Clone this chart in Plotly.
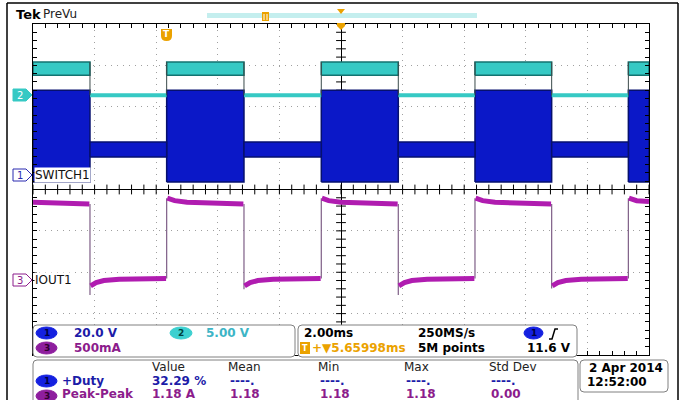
import plotly.graph_objects as go
import numpy as np

W, H = 681, 400

# ---------------- data ----------------
t_range_ms = [-10.0, 10.0]              # 2.00 ms/div, 10 divisions
fall_edges_ms = [-8.15, -3.15, 1.86, 6.84]
rise_edges_ms = [-5.66, -0.64, 4.35, 9.33]

# Channel settings: volts (or amps) per division and ground position (div)
ch1_scale, ch1_pos = 20.0, 0.35     # SWITCH1, 20.0 V/div
ch2_scale, ch2_pos = 5.0, 2.28      # 5.00 V/div
ch3_scale, ch3_pos = 0.5, -2.19     # IOUT1, 500 mA/div

# CH1 switching node envelope (V)
ch1_high_top_V = 41.0
ch1_high_bot_V = -3.4
ch1_low_top_V = 16.0
ch1_low_bot_V = 8.7

# CH2 (V)
ch2_high_top_V = 4.0
ch2_high_bot_V = 2.4
ch2_low_V = 0.0

# CH3 output current (A)
ch3_t = [-10.0, -8.17, None, -8.13, -7.95, -7.7, -7.2, -5.68, None,
         -5.64, -5.4, -5.0, -3.17, None, -3.13, -2.95, -2.7, -2.2, -0.66, None,
         -0.62, -0.4, 0.0, 1.84, None, 1.88, 2.06, 2.3, 2.8, 4.33, None,
         4.37, 4.6, 5.0, 6.82, None, 6.86, 7.04, 7.3, 7.8, 9.31, None,
         9.35, 9.6, 10.0]
ch3_A = [0.94, 0.92, None, -0.07, -0.03, -0.005, 0.01, 0.02, None,
         0.99, 0.96, 0.94, 0.92, None, -0.07, -0.03, -0.005, 0.01, 0.02, None,
         0.99, 0.96, 0.94, 0.92, None, -0.07, -0.03, -0.005, 0.01, 0.02, None,
         0.99, 0.96, 0.94, 0.92, None, -0.07, -0.03, -0.005, 0.01, 0.02, None,
         0.99, 0.96, 0.95]
ch3_fall_spike_A = [-0.18, -0.11, -0.18, -0.10]
ch3_fall_from_A = [0.92, 0.92, 0.92, 0.92]
ch3_rise_from_A = [0.02, 0.02, 0.02, 0.02]
ch3_rise_to_A = [0.99, 0.99, 0.99, 0.99]

# Readouts
meas_headers = ["Value", "Mean", "Min", "Max", "Std Dev"]
meas_duty = ["32.29 %", "----.", "----.", "----.", "----."]
meas_pp = ["1.18 A", "1.18", "1.18", "1.18", "0.00"]

# ---------------- colours ----------------
C1 = "#0B18C8"; C1E = "#06106E"; C1T = "#1C1CA8"
C2 = "#36C9C4"; C2E = "#137370"; C2T = "#3DB5C6"
C3 = "#B01CB0"; C3T = "#8C1C8C"
ORG = "#EBA200"
FONT = "DejaVu Sans"

def X(p):
    return p / W

def Y(p):
    return 1 - p / H

# ---------------- traces ----------------
fig = go.Figure()

starts = [t_range_ms[0]] + rise_edges_ms
ends = fall_edges_ms + [t_range_ms[1]]
high_iv = list(zip(starts, ends))
low_iv = list(zip(fall_edges_ms, rise_edges_ms))

def blocks(intervals, lo, hi):
    xs, ys = [], []
    for a, b in intervals:
        xs += [a, a, b, b, a, None]
        ys += [lo, hi, hi, lo, lo, None]
    return xs, ys

# CH1
bx, by = blocks(high_iv, ch1_high_bot_V, ch1_high_top_V)
fig.add_trace(go.Scatter(x=bx, y=by, yaxis="y2", mode="lines", fill="toself",
                         fillcolor=C1, line=dict(color=C1E, width=1.5), hoverinfo="skip"))
lx, ly = blocks(low_iv, ch1_low_bot_V, ch1_low_top_V)
fig.add_trace(go.Scatter(x=lx, y=ly, yaxis="y2", mode="lines", fill="toself",
                         fillcolor=C1, line=dict(color=C1E, width=1.5), hoverinfo="skip"))

# CH2
hx, hy = blocks(high_iv, ch2_high_bot_V, ch2_high_top_V)
fig.add_trace(go.Scatter(x=hx, y=hy, yaxis="y3", mode="lines", fill="toself",
                         fillcolor=C2, line=dict(color=C2E, width=1.5), hoverinfo="skip"))
c2x, c2y = [], []
for a, b in low_iv:
    c2x += [a, b, None]
    c2y += [ch2_low_V, ch2_low_V, None]
fig.add_trace(go.Scatter(x=c2x, y=c2y, yaxis="y3", mode="lines",
                         line=dict(color=C2, width=4), hoverinfo="skip"))
ex, ey = [], []
for t in fall_edges_ms + rise_edges_ms:
    ex += [t, t, None]
    ey += [ch2_low_V, ch2_high_top_V, None]
fig.add_trace(go.Scatter(x=ex, y=ey, yaxis="y3", mode="lines",
                         line=dict(color="#3A4A4A", width=1), hoverinfo="skip"))

# CH3 edges (thin) then levels (thick)
e3x, e3y = [], []
for t, a, b in zip(fall_edges_ms, ch3_fall_from_A, ch3_fall_spike_A):
    e3x += [t, t, None]; e3y += [a, b, None]
for t, a, b in zip(rise_edges_ms, ch3_rise_from_A, ch3_rise_to_A):
    e3x += [t, t, None]; e3y += [a, b, None]
fig.add_trace(go.Scatter(x=e3x, y=e3y, yaxis="y4", mode="lines",
                         line=dict(color="#7E5E86", width=1.2), hoverinfo="skip"))
fig.add_trace(go.Scatter(x=ch3_t, y=ch3_A, yaxis="y4", mode="lines",
                         line=dict(color=C3, width=5), hoverinfo="skip"))

# Graticule centre ticks
tick_x = np.arange(-10, 10.01, 0.4)
fig.add_trace(go.Scatter(x=tick_x, y=np.zeros_like(tick_x), mode="markers",
                         marker=dict(symbol="line-ns", size=7, line=dict(color="black", width=1)),
                         hoverinfo="skip"))
tick_y = np.arange(-4, 4.01, 0.2)
fig.add_trace(go.Scatter(x=np.zeros_like(tick_y), y=tick_y, mode="markers",
                         marker=dict(symbol="line-ew", size=7, line=dict(color="black", width=1)),
                         hoverinfo="skip"))

# ---------------- axes ----------------
xd = [X(33), X(649)]
yd = [Y(355), Y(24)]
fig.update_layout(
    width=W, height=H, margin=dict(l=0, r=0, t=0, b=0),
    paper_bgcolor="white", plot_bgcolor="white", showlegend=False,
    xaxis=dict(domain=xd, range=t_range_ms, dtick=2, showgrid=True, gridcolor="#A0A0A0",
               griddash="1px,5px", gridwidth=1, zeroline=True, zerolinecolor="black",
               zerolinewidth=1, showline=True, linecolor="black", linewidth=1, mirror="ticks",
               ticks="inside", ticklen=4, tickcolor="black", showticklabels=False,
               minor=dict(dtick=0.4, ticks="inside", ticklen=4, tickcolor="black", showgrid=False),
               fixedrange=True),
    yaxis=dict(domain=yd, range=[-4, 4], dtick=1, showgrid=True, gridcolor="#A0A0A0",
               griddash="1px,5px", gridwidth=1, zeroline=True, zerolinecolor="black",
               zerolinewidth=1, showline=True, linecolor="black", linewidth=1, mirror="ticks",
               ticks="inside", ticklen=4, tickcolor="black", showticklabels=False,
               minor=dict(dtick=0.2, ticks="inside", ticklen=4, tickcolor="black", showgrid=False),
               fixedrange=True),
    yaxis2=dict(overlaying="y", visible=False,
                range=[(-4 - ch1_pos) * ch1_scale, (4 - ch1_pos) * ch1_scale]),
    yaxis3=dict(overlaying="y", visible=False,
                range=[(-4 - ch2_pos) * ch2_scale, (4 - ch2_pos) * ch2_scale]),
    yaxis4=dict(overlaying="y", visible=False,
                range=[(-4 - ch3_pos) * ch3_scale, (4 - ch3_pos) * ch3_scale]),
)

# ---------------- decorations ----------------
shapes = []
ann = []

def rrect(x0, y0, x1, y1, r=4, color="#808080", width=1, fill="white"):
    p = (f"M {X(x0+r)} {Y(y0)} L {X(x1-r)} {Y(y0)} Q {X(x1)} {Y(y0)} {X(x1)} {Y(y0+r)} "
         f"L {X(x1)} {Y(y1-r)} Q {X(x1)} {Y(y1)} {X(x1-r)} {Y(y1)} "
         f"L {X(x0+r)} {Y(y1)} Q {X(x0)} {Y(y1)} {X(x0)} {Y(y1-r)} "
         f"L {X(x0)} {Y(y0+r)} Q {X(x0)} {Y(y0)} {X(x0+r)} {Y(y0)} Z")
    shapes.append(dict(type="path", path=p, xref="paper", yref="paper",
                       line=dict(color=color, width=width), fillcolor=fill, layer="above"))

def text(x, y, s, color="black", size=12, anchor="left", bold=False, bg=None, family=FONT):
    d = dict(x=X(x), y=Y(y), xref="paper", yref="paper", text=(f"<b>{s}</b>" if bold else s),
             showarrow=False, xanchor=anchor, yanchor="middle",
             font=dict(color=color, size=size, family=family))
    if bg:
        d["bgcolor"] = bg
        d["borderpad"] = 0
    ann.append(d)

def oval(x0, y0, x1, y1, fill, label, lcolor="black"):
    shapes.append(dict(type="circle", xref="paper", yref="paper", x0=X(x0), x1=X(x1),
                       y0=Y(y1), y1=Y(y0), fillcolor=fill, line=dict(color=fill, width=1),
                       layer="above"))
    text((x0 + x1) / 2, (y0 + y1) / 2, label, color=lcolor, size=9, anchor="center", bold=True)

def line(x0, y0, x1, y1, color="black", width=1):
    shapes.append(dict(type="line", xref="paper", yref="paper", x0=X(x0), y0=Y(y0),
                       x1=X(x1), y1=Y(y1), line=dict(color=color, width=width), layer="above"))

# outer frame
line(7, 3, 678, 3, width=1.5)
line(7, 3, 7, 400, width=1.5)
line(678, 3, 678, 400, width=1.5)

# top bar
text(14, 14, "Tek", size=13, bold=True)
text(41, 14, "PreVu", size=12, color="#222")
shapes.append(dict(type="rect", xref="paper", yref="paper", x0=X(207), x1=X(477),
                   y0=Y(18), y1=Y(13), fillcolor="#C4EEEE", line=dict(width=0), layer="above"))
shapes.append(dict(type="rect", xref="paper", yref="paper", x0=X(262), x1=X(269),
                   y0=Y(21), y1=Y(12), fillcolor=ORG, line=dict(width=0), layer="above"))
line(264, 14, 264, 20, color="white", width=1)
line(267, 14, 267, 20, color="white", width=1)
shapes.append(dict(type="path", xref="paper", yref="paper",
                   path=f"M {X(337)} {Y(9)} L {X(345)} {Y(9)} L {X(341)} {Y(14)} Z",
                   fillcolor=ORG, line=dict(width=0), layer="above"))
shapes.append(dict(type="path", xref="paper", yref="paper",
                   path=f"M {X(337)} {Y(23)} L {X(345)} {Y(23)} L {X(345)} {Y(26)} L {X(341)} {Y(30)} L {X(337)} {Y(26)} Z",
                   fillcolor=ORG, line=dict(width=0), layer="above"))
# trigger position marker
shapes.append(dict(type="path", xref="paper", yref="paper",
                   path=(f"M {X(161)} {Y(29)} L {X(172)} {Y(29)} L {X(172)} {Y(36)} "
                         f"Q {X(172)} {Y(41)} {X(166.5)} {Y(41)} Q {X(161)} {Y(41)} {X(161)} {Y(36)} Z"),
                   fillcolor=ORG, line=dict(width=0), layer="above"))
text(166.5, 34.5, "T", color="white", size=9, anchor="center", bold=True)

# channel markers
def marker(yc, color, label, filled):
    p = (f"M {X(13)} {Y(yc-6)} L {X(26)} {Y(yc-6)} L {X(32)} {Y(yc)} L {X(26)} {Y(yc+6)} "
         f"L {X(13)} {Y(yc+6)} Z")
    shapes.append(dict(type="path", xref="paper", yref="paper", path=p,
                       fillcolor=(color if filled else "white"),
                       line=dict(color=color, width=1), layer="above"))
    text(19.5, yc, label, color=("white" if filled else color), size=10, anchor="center")

marker(95, C2, "2", True)
marker(175, "#2A2AB0", "1", False)
marker(280, C3T, "3", False)
text(34, 175, "SWITCH1", size=12, bg="white", color="#111")
text(34, 280, "IOUT1", size=12, bg="white", color="#111")

# readout boxes
rrect(33, 325, 295, 357)
rrect(298, 325, 577, 357)
rrect(33, 360, 578, 410)
rrect(580, 360, 668, 392)

oval(36, 327, 57, 339, "#1420E0", "1", "#000040")
text(72, 333, "20.0 V", color=C1T, size=12, bold=True)
oval(170, 327, 192, 339, "#3CD0D0", "2", "#004040")
text(204, 333, "5.00 V", color=C2T, size=12, bold=True)
oval(36, 342, 57, 354, "#8E1E9E", "3", "#300030")
text(72, 348, "500mA", color=C3T, size=12, bold=True)

text(302, 333, "2.00ms", size=12, bold=True)
text(416, 333, "250MS/s", size=12, bold=True)
oval(524, 327, 543, 339, "#1420E0", "1", "#000040")
shapes.append(dict(type="path", xref="paper", yref="paper",
                   path=f"M {X(549)} {Y(339)} L {X(552)} {Y(339)} L {X(555)} {Y(329)} L {X(558)} {Y(329)}",
                   line=dict(color="black", width=1.5), layer="above"))
shapes.append(dict(type="rect", xref="paper", yref="paper", x0=X(300), x1=X(310),
                   y0=Y(354), y1=Y(342), fillcolor=ORG, line=dict(width=0), layer="above"))
text(305, 348, "T", color="white", size=8, anchor="center", bold=True)
text(310, 348, "+▼5.65998ms", color=ORG, size=12, bold=True)
text(416, 348, "5M points", size=12, bold=True)
text(573, 348, "11.6 V", size=12, bold=True, anchor="right")

cols = [150, 226, 316, 402, 487]
for c, h in zip(cols, meas_headers):
    text(c, 367, h, size=12, color="#222")
oval(36, 375, 57, 387, "#1420E0", "1", "#000040")
text(60, 381, "+Duty", color=C1T, size=12, bold=True)
for c, v in zip(cols, meas_duty):
    text(c + (2 if v.startswith("-") else 0), 381, v, color=C1T, size=12, bold=True)
oval(36, 390, 57, 402, "#8E1E9E", "3", "#300030")
text(60, 394, "Peak-Peak", color=C3T, size=12, bold=True)
for c, v in zip(cols, meas_pp):
    text(c + (2 if c != 150 else 0), 394, v, color=C3T, size=12, bold=True)

text(665, 368, "2 Apr 2014", size=12, bold=True, anchor="right")
text(585, 382, "12:52:00", size=12, bold=True)

fig.update_layout(shapes=shapes, annotations=ann)
fig.write_html("out.html", config={"displayModeBar": False, "staticPlot": True},
               post_script="document.body.style.margin='0';document.body.style.overflow='hidden';")
